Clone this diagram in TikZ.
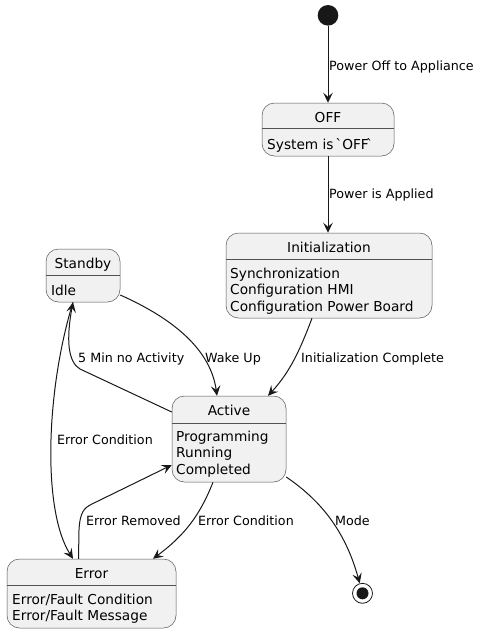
\documentclass[tikz,border=0pt]{standalone}
\usepackage{fontspec}
\setmainfont{DejaVu Sans}[Ligatures=TeXOff]
\usetikzlibrary{arrows.meta}

\definecolor{umlfill}{HTML}{F1F1F1}
\definecolor{umlline}{HTML}{181818}

\tikzset{
  state/.style={draw=umlline!75, fill=umlfill, rounded corners=12.5pt, line width=0.5pt, inner sep=0pt},
  divider/.style={draw=umlline!75, line width=0.5pt},
  stitle/.style={font=\fontsize{13.7}{16.5}\selectfont, anchor=base, inner sep=0pt},
  sbody/.style={font=\fontsize{13.7}{16.5}\selectfont, align=left, anchor=base west, inner sep=0pt},
  lbl/.style={font=\fontsize{12.7}{15}\selectfont, anchor=base west, inner sep=0pt},
  edge/.style={draw=umlline, line width=1pt, -{Stealth[length=10pt,width=9.5pt,inset=4pt]}},
}

\begin{document}
\begin{tikzpicture}[x=1pt, y=-1pt]
  \useasboundingbox (0,0) rectangle (480,633);

  % start / stop
  \node[circle, fill=umlline, minimum size=20.6pt, inner sep=0pt] (start) at (328,15.3) {};
  \node[circle, draw=umlline, line width=0.8pt, minimum size=20pt, inner sep=0pt] (stop) at (362.5,593.3) {};
  \fill[umlline] (stop) circle (6);

  % states (body nodes sit on the baseline of their last line)
  \node[state, minimum width=132pt, minimum height=53pt] (off) at (328,129.5) {};
  \draw[divider] (off.west |- 0,128) -- (off.east |- 0,128);
  \node[stitle] (offT) at (328,122) {OFF};
  \node[sbody] (offB) at (267,149) {System is \`{}OFF\`{}};

  \node[state, minimum width=206pt, minimum height=85pt] (init) at (329,275.5) {};
  \draw[divider] (init.west |- 0,259) -- (init.east |- 0,259);
  \node[stitle] (initT) at (329,252) {Initialization};
  \node[sbody] (initB) at (230,311) {Synchronization\\Configuration HMI\\Configuration Power Board};

  \node[state, minimum width=74pt, minimum height=53pt] (standby) at (83,275.5) {};
  \draw[divider] (standby.west |- 0,275) -- (standby.east |- 0,275);
  \node[stitle] (standbyT) at (83,268) {Standby};
  \node[sbody] (standbyB) at (51,295) {Idle};

  \node[state, minimum width=114pt, minimum height=86pt] (active) at (229,439) {};
  \draw[divider] (active.west |- 0,423) -- (active.east |- 0,423);
  \node[stitle] (activeT) at (229,415) {Active};
  \node[sbody] (activeB) at (176,474) {Programming\\Running\\Completed};

  \node[state, minimum width=169pt, minimum height=69pt] (error) at (91.5,593.5) {};
  \draw[divider] (error.west |- 0,585) -- (error.east |- 0,585);
  \node[stitle] (errorT) at (91.5,578) {Error};
  \node[sbody] (errorB) at (12,620.5) {Error/Fault Condition\\Error/Fault Message};

  % transitions
  \draw[edge] (start) -- (off);
  \draw[edge] (off.south) -- (off.south |- init.north);
  \draw[edge] ([xshift=-17pt]init.south) .. controls (300,350) and (290,372) .. ([xshift=39pt]active.north);
  \draw[edge] ([yshift=-19.5pt]standby.east) .. controls (165,315) and (210,345) .. ([xshift=-12pt]active.north);
  \draw[edge] ([yshift=27pt]active.west) -- (80,369) .. controls (68,362) and (66,340) .. ([xshift=-10pt]standby.south);
  \draw[edge] ([xshift=-10pt]standby.south) .. controls (46,390) and (42,510) .. ([xshift=-18.5pt]error.north);
  \draw[edge] ([xshift=-13pt]error.north) -- (79,530) .. controls (80,512) and (84,508) .. (92,504) -- ([yshift=-26pt]active.west);
  \draw[edge] ([xshift=-16pt]active.south) .. controls (200,515) and (185,535) .. ([xshift=61.5pt]error.north);
  \draw[edge] ([yshift=-38pt]active.east) .. controls (320,500) and (345,530) .. (stop);

  % labels
  \node[lbl] (lPowerOff) at (329,70.5) {Power Off to Appliance};
  \node[lbl] (lApplied) at (329,198.5) {Power is Applied};
  \node[lbl] (lInitDone) at (301,362.5) {Initialization Complete};
  \node[lbl] (lWake) at (205,362.5) {Wake Up};
  \node[lbl] (lIdle) at (78,362.5) {5 Min no Activity};
  \node[lbl] (lErrStandby) at (57,444.5) {Error Condition};
  \node[lbl] (lRemoved) at (86,525.5) {Error Removed};
  \node[lbl] (lErrActive) at (198,525.5) {Error Condition};
  \node[lbl] (lMode) at (335,525.5) {Mode};
\end{tikzpicture}
\end{document}
